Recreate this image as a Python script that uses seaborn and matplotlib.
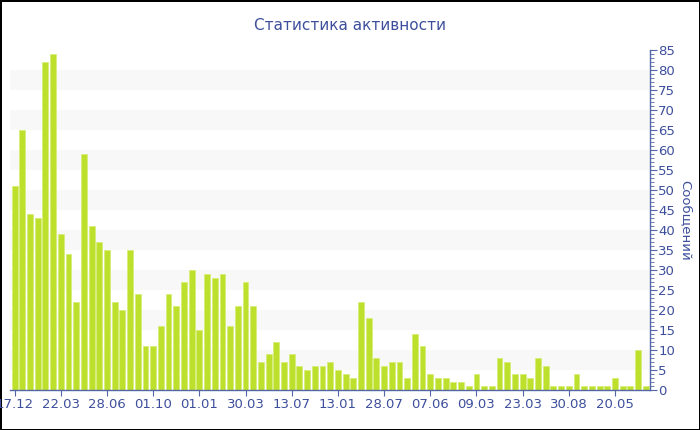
import numpy as np
import pandas as pd
import seaborn as sns
import matplotlib.pyplot as plt
from matplotlib.ticker import MultipleLocator

# messages per period
values = [51, 65, 44, 43, 82, 84, 39, 34, 22, 59,
          41, 37, 35, 22, 20, 35, 24, 11, 11, 16,
          24, 21, 27, 30, 15, 29, 28, 29, 16, 21,
          27, 21, 7, 9, 12, 7, 9, 6, 5, 6,
          6, 7, 5, 4, 3, 22, 18, 8, 6, 7,
          7, 3, 14, 11, 4, 3, 3, 2, 2, 1,
          4, 1, 1, 8, 7, 4, 4, 3, 8, 6,
          1, 1, 1, 4, 1, 1, 1, 1, 3, 1,
          1, 10, 1]
tick_labels = ['17.12', '22.03', '28.06', '01.10', '01.01', '30.03', '13.07',
               '13.01', '28.07', '07.06', '09.03', '23.03', '30.08', '20.05']
tick_step = 6

title = 'Статистика активности'
ylabel = 'Сообщений'

df = pd.DataFrame({'pos': range(len(values)), 'count': values})

sns.set_style('white')
plt.rcParams['font.family'] = ['DejaVu Sans']
text_col = '#3d4f9c'
axis_col = '#5466a8'

fig = plt.figure(figsize=(7, 4.3), dpi=100, edgecolor='black', linewidth=2)
ax = fig.add_axes([10 / 700, 40 / 430, 640 / 700, 340 / 430])

# light alternating bands
for lo in range(5, 85, 10):
    ax.axhspan(lo, lo + 5, color='#f8f8f8', zorder=0, lw=0)

sns.barplot(data=df, x='pos', y='count', color='#bde02d', saturation=1,
            width=0.76, edgecolor='#d6ee7a', linewidth=0.6, ax=ax, zorder=2)

ax.set_xlim(-0.6, len(values) - 0.45)
ax.set_ylim(0, 85)

ax.set_xticks(range(0, len(values), tick_step))
ax.set_xticklabels(tick_labels)
ax.set_xlabel('')

ax.yaxis.tick_right()
ax.yaxis.set_label_position('right')
ax.yaxis.set_major_locator(MultipleLocator(5))
ax.yaxis.set_minor_locator(MultipleLocator(1))
ax.set_ylabel(ylabel, rotation=270, labelpad=12, color=text_col, fontsize=9.5)

for s in ['left', 'top']:
    ax.spines[s].set_visible(False)
for s in ['right', 'bottom']:
    ax.spines[s].set_color(axis_col)
    ax.spines[s].set_linewidth(1)

ax.tick_params(axis='y', which='major', right=True, length=5, color=axis_col,
               labelcolor=text_col, labelsize=9.5, pad=1)
ax.tick_params(axis='y', which='minor', right=True, length=3, color=axis_col)
ax.tick_params(axis='x', bottom=True, length=4, color=axis_col,
               labelcolor=text_col, labelsize=9.5, pad=2)

fig.text(0.5, 1 - 25 / 430, title, ha='center', va='center',
         color=text_col, fontsize=11)

fig.savefig('out.png', dpi=100, edgecolor=fig.get_edgecolor())
